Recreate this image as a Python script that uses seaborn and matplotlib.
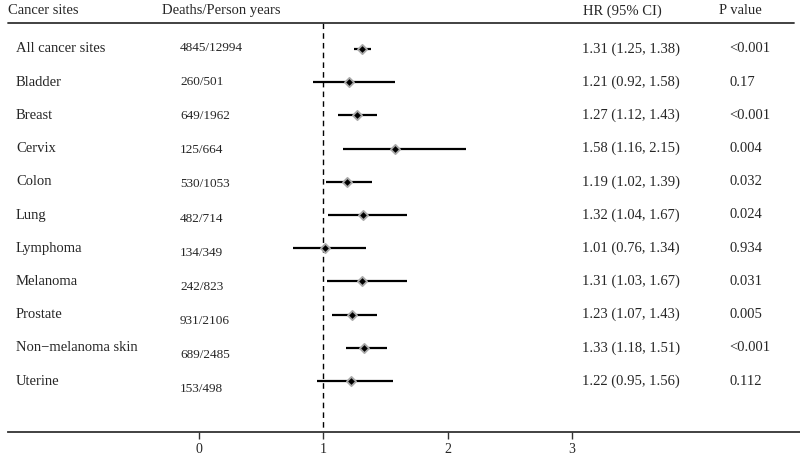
import matplotlib
matplotlib.use("Agg")
import matplotlib.pyplot as plt
import matplotlib.transforms as mtransforms
import numpy as np
import pandas as pd
import seaborn as sns

sites = ["All cancer sites", "Bladder", "Breast", "Cervix", "Colon", "Lung",
         "Lymphoma", "Melanoma", "Prostate", "Non\u2212melanoma skin", "Uterine"]
deaths = ["4845/12994", "260/501", "649/1962", "125/664", "530/1053", "482/714",
          "134/349", "242/823", "931/2106", "689/2485", "153/498"]
hr = [1.31, 1.21, 1.27, 1.58, 1.19, 1.32, 1.01, 1.31, 1.23, 1.33, 1.22]
lo = [1.25, 0.92, 1.12, 1.16, 1.02, 1.04, 0.76, 1.03, 1.07, 1.18, 0.95]
hi = [1.38, 1.58, 1.43, 2.15, 1.39, 1.67, 1.34, 1.67, 1.43, 1.51, 1.56]
pvals = ["<0.001", "0.17", "<0.001", "0.004", "0.032", "0.024",
         "0.934", "0.031", "0.005", "<0.001", "0.112"]
ticks = [0, 1, 2, 3]

df = pd.DataFrame({"site": sites, "hr": hr, "lo": lo, "hi": hi})
df["row"] = np.arange(len(df))

sns.set_theme(style="white")
plt.rcParams["font.family"] = ["Liberation Serif", "DejaVu Serif"]

W, H = 800, 461
fig = plt.figure(figsize=(W / 100, H / 100), dpi=100)
ax = fig.add_axes([8 / W, 1 - 432 / H, 792 / W, 432 / H])

# pixel -> data mapping: x tick 0 at 199px, 124.3px per unit; rows start at 49px, 33.2px apart
px_unit = 124.3
ax.set_xlim((8 - 199) / px_unit, (800 - 199) / px_unit)
row_px = 33.2
ax.set_ylim((432 - 49) / row_px, -49 / row_px)

ax.hlines(df["row"], df["lo"], df["hi"], color="black", lw=1.6, zorder=2)
sns.scatterplot(data=df, x="hr", y="row", marker="D", s=22, color="black",
                edgecolor="#a8a8a8", linewidth=1.3, ax=ax, zorder=3, legend=False)

header_y = (23 - 49) / row_px
ax.axhline(header_y, xmin=0, xmax=0.993, color="#333333", lw=1.3, clip_on=False)
ax.plot([1, 1], [header_y, (432 - 49) / row_px], color="black", lw=1,
        ls=(0, (4, 3)), zorder=1)

for s in ["top", "right", "left"]:
    ax.spines[s].set_visible(False)
ax.spines["bottom"].set_color("#333333")
ax.spines["bottom"].set_linewidth(1.3)
ax.set_xticks(ticks)
ax.set_xticklabels([str(t) for t in ticks], fontsize=10)
ax.tick_params(axis="x", bottom=True, length=5, width=1, color="#333333", pad=3)
ax.set_yticks([])
ax.set_xlabel("")
ax.set_ylabel("")

tr = mtransforms.blended_transform_factory(fig.transFigure, ax.transData)
hy = (11 - 49) / row_px
fs = 10.5
ax.text(8 / W, hy, "Cancer sites", transform=tr, fontsize=fs, va="center")
ax.text(162 / W, hy, "Deaths/Person years", transform=tr, fontsize=fs, va="center")
ax.text(583 / W, hy, "HR (95% CI)", transform=tr, fontsize=fs, va="center")
ax.text(719 / W, hy, "P value", transform=tr, fontsize=fs, va="center")

for i in range(len(sites)):
    ax.text(16 / W, i, sites[i], transform=tr, fontsize=fs, va="center")
    dy = (48 + 34.1 * i - 49) / row_px
    ax.text(180 / W, dy, deaths[i], transform=tr, fontsize=9.5, va="center")
    ax.text(582 / W, i, f"{hr[i]:.2f} ({lo[i]:.2f}, {hi[i]:.2f})", transform=tr,
            fontsize=fs, va="center")
    ax.text(729 / W, i, pvals[i], transform=tr, fontsize=fs, va="center")

fig.savefig("out.png", dpi=100)
